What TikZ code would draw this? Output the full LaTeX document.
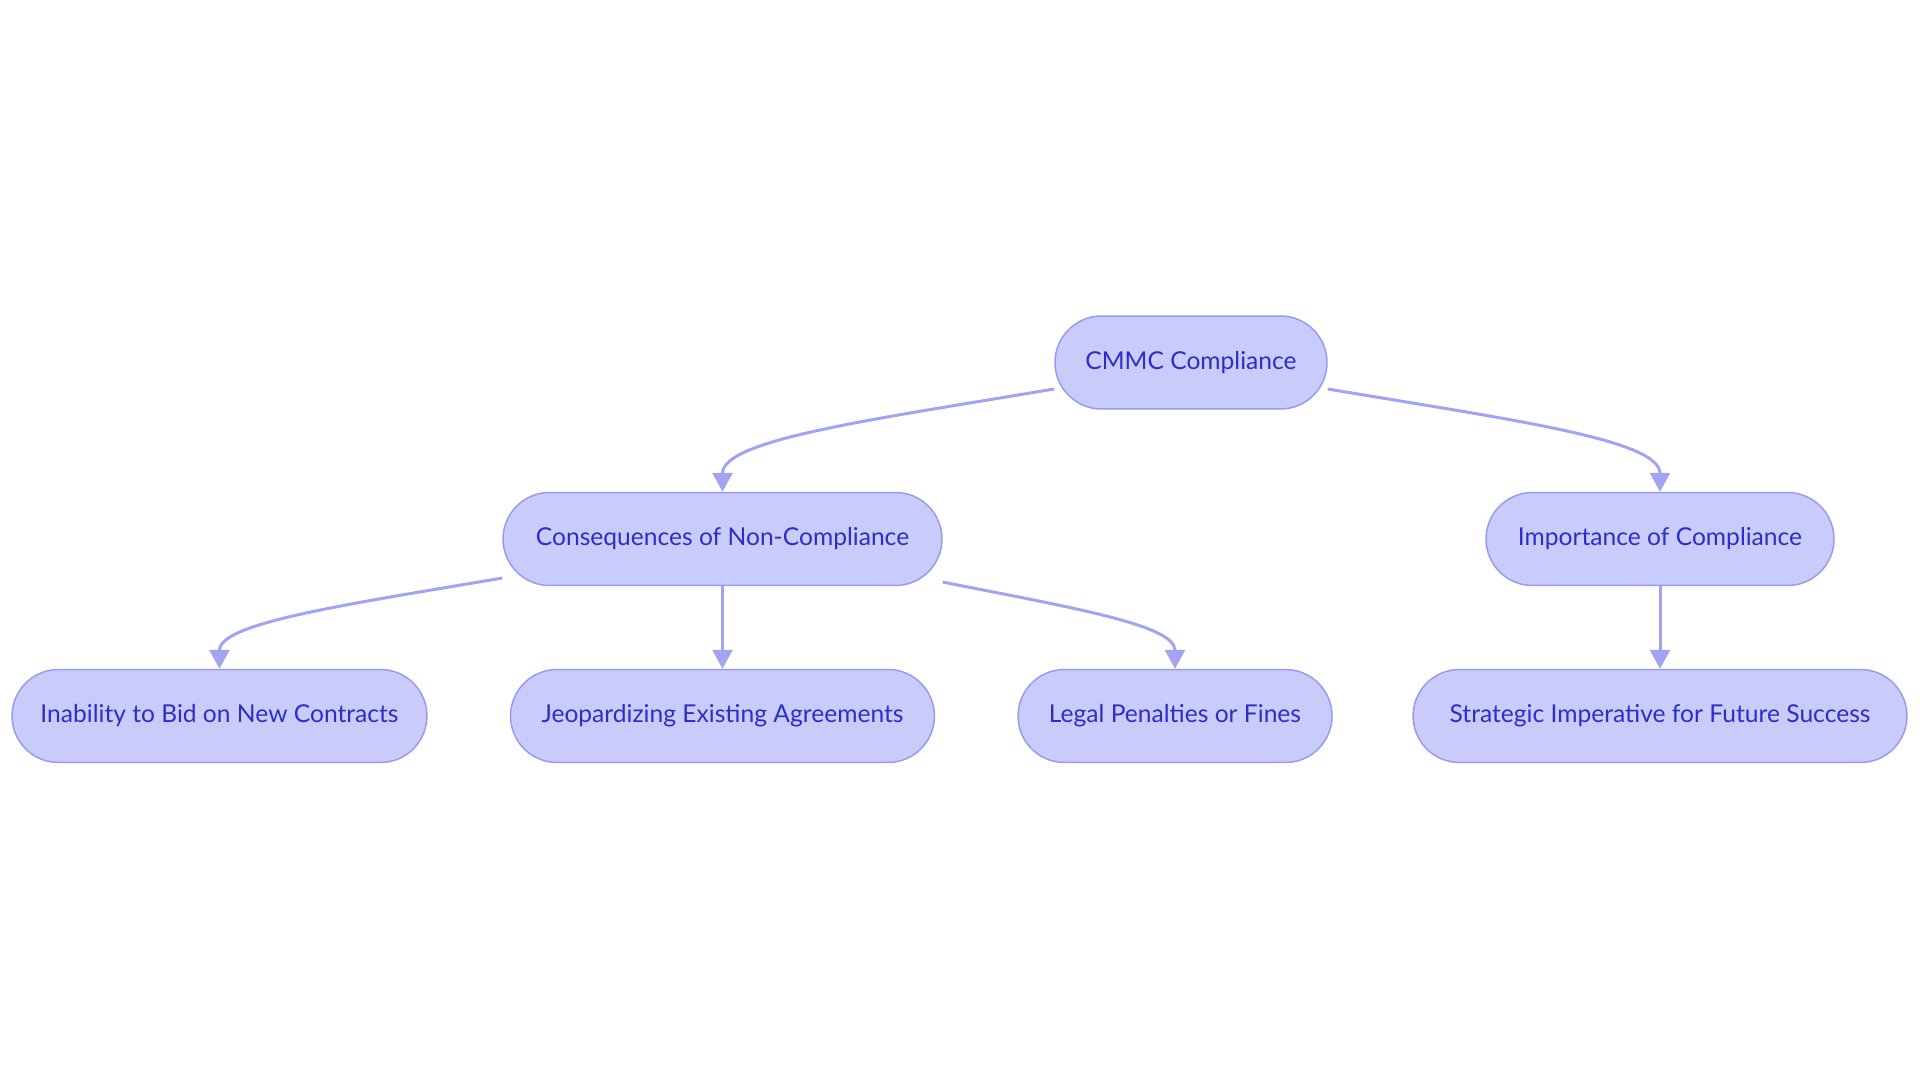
\documentclass[tikz,border=0pt]{standalone}
\usepackage{fontspec}
\setmainfont{Lato}
\usetikzlibrary{arrows.meta,calc,backgrounds}
\definecolor{nfill}{HTML}{C9CBFB}
\definecolor{nstroke}{HTML}{969CF0}
\definecolor{ntext}{HTML}{2B2FC7}
\definecolor{nedge}{HTML}{A0A4F3}
\begin{document}
\begin{tikzpicture}[x=0.02cm,y=0.02cm,
  box/.style={draw=nstroke, fill=nfill, line width=0.85pt, rounded corners=0.93cm,
    minimum height=1.86cm, inner sep=0pt, text=ntext, font=\fontsize{14}{16}\selectfont},
  edge/.style={draw=nedge, line width=1.7pt, -{Triangle[length=0.38cm,width=0.4cm]}}]
\useasboundingbox (0,0) rectangle (1920,1083);
\node[box, minimum width=5.44cm] (cmmc) at (1191,720.5) {CMMC Compliance};
\node[box, minimum width=8.78cm] (cons) at (722.5,544) {Consequences of Non-Compliance};
\node[box, minimum width=6.96cm] (imp) at (1660,544) {Importance of Compliance};
\node[box, minimum width=8.30cm] (inab) at (219.5,367) {Inability to Bid on New Contracts};
\node[box, minimum width=8.48cm] (jeop) at (722.5,367) {Jeopardizing Existing Agreements};
\node[box, minimum width=6.28cm] (legal) at (1175,367) {Legal Penalties or Fines};
\node[box, minimum width=9.88cm] (strat) at (1660,367) {Strategic Imperative for Future Success};
\begin{scope}[on background layer]
\fill[white] (0,0) rectangle (1920,1083);
\draw[edge] ([yshift=-0.53cm]cmmc.west) .. controls +(-185,-31) and +(0,52) .. (cons.north);
\draw[edge] ([yshift=-0.53cm]cmmc.east) .. controls +(185,-31) and +(0,52) .. (imp.north);
\draw[edge] ([yshift=-0.78cm]cons.west) .. controls +(-158,-27) and +(0,46) .. (inab.north);
\draw[edge] ([yshift=-0.86cm]cons.east) .. controls +(130,-26) and +(0,44) .. (legal.north);
\draw[edge] (cons.south) -- (jeop.north);
\draw[edge] (imp.south) -- (strat.north);
\end{scope}
\end{tikzpicture}
\end{document}
